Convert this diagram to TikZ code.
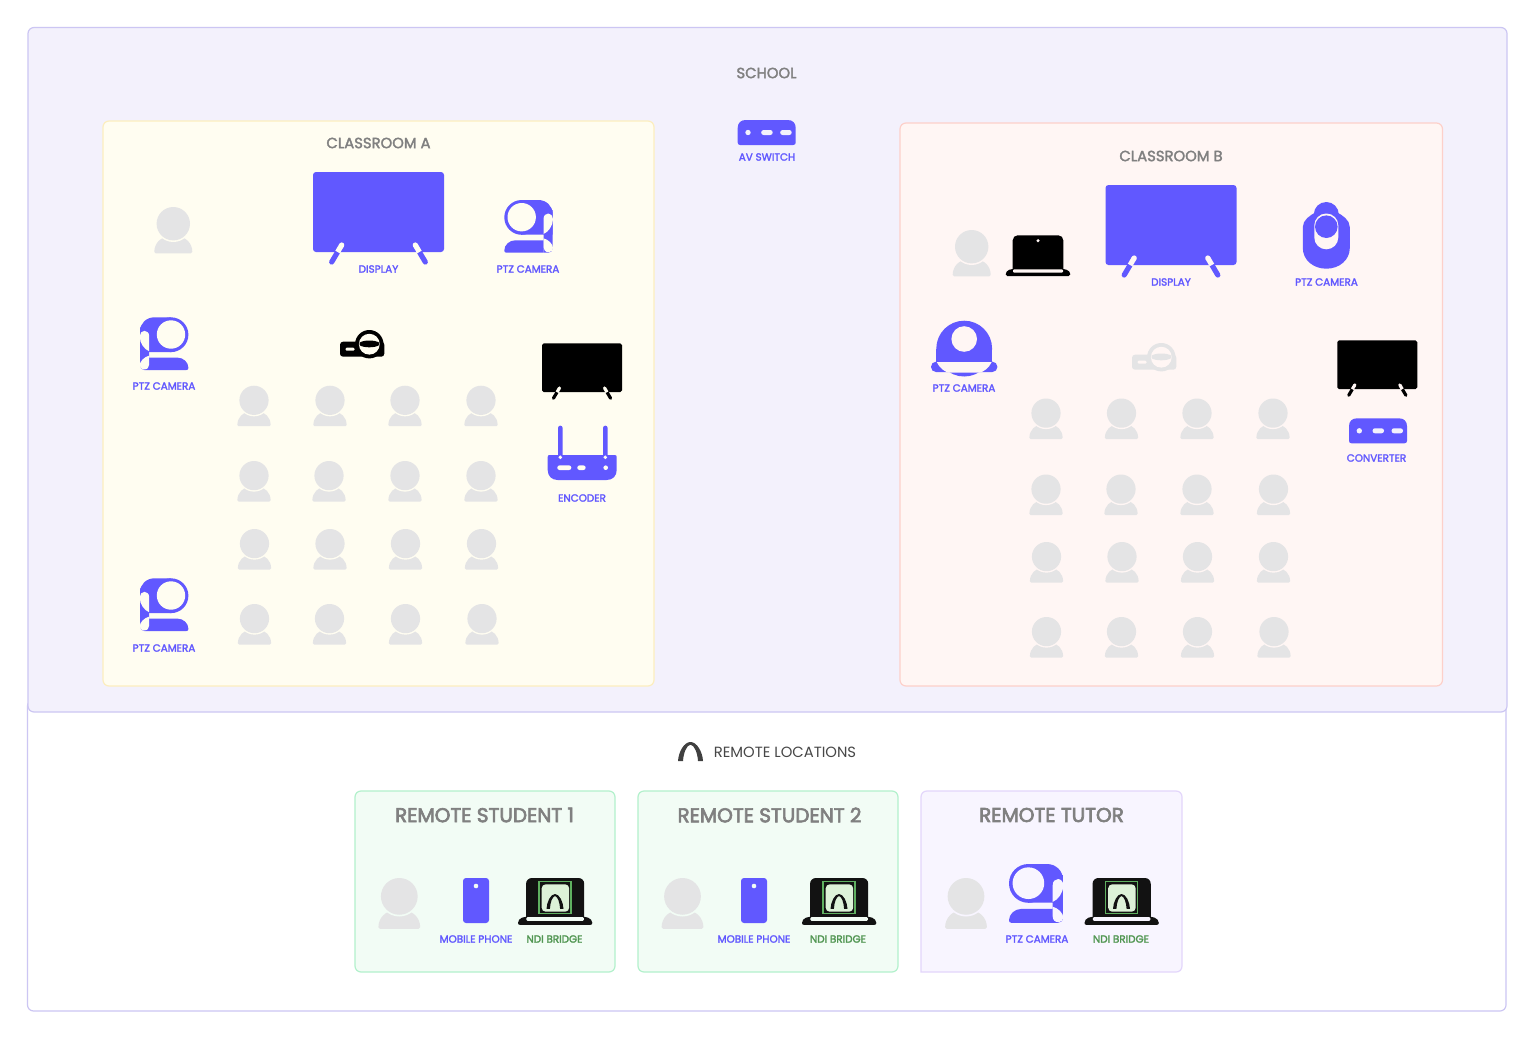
\documentclass[tikz,border=0pt]{standalone}
\usepackage{fontspec}
\setmainfont{Poppins}
\newfontfamily\medfont[FakeBold=2.2]{Poppins}
\newfontfamily\semifont[FakeBold=3.2]{Poppins}
\definecolor{purp}{HTML}{6158FF}
\definecolor{grayp}{HTML}{E4E4E5}
\definecolor{schoolfill}{HTML}{F3F1FC}
\definecolor{schoolline}{HTML}{CCC6F3}
\definecolor{afill}{HTML}{FFFDF1}
\definecolor{aline}{HTML}{FCEEBF}
\definecolor{bfill}{HTML}{FFF6F4}
\definecolor{bline}{HTML}{FDD0CA}
\definecolor{gfill}{HTML}{F2FCF5}
\definecolor{gline}{HTML}{B3F1CC}
\definecolor{tfill}{HTML}{F8F5FF}
\definecolor{tline}{HTML}{E3D6FB}
\definecolor{ndigreen}{HTML}{5FB060}
\definecolor{ndifill}{HTML}{DDF2D8}
\definecolor{titlegray}{HTML}{808080}
\tikzset{
  panel/.style={line width=1.2pt,rounded corners=6pt},
  lbl/.style={font=\medfont\fontsize{10.4}{11}\selectfont,text=purp,inner sep=0pt},
  greenlbl/.style={font=\medfont\fontsize{10.4}{11}\selectfont,text=ndigreen!85!black,inner sep=0pt},
  roomtitle/.style={font=\medfont\fontsize{14.8}{16}\selectfont,text=titlegray,inner sep=0pt},
  remotetitle/.style={font=\semifont\fontsize{20}{22}\selectfont,text=titlegray,inner sep=0pt}
}
% #1 centre x, #2 top y, #3 scale, #4 background
\newcommand{\person}[4]{\begin{scope}[shift={(#1,#2)},scale=#3]
  \fill[grayp] (-17.5,46.3) -- (17.5,46.3) .. controls (18.5,46.3) and (19,45.8) .. (19,44.8) .. controls (19,36) and (12,30) .. (6,30) -- (-6,30) .. controls (-12,30) and (-19,36) .. (-19,44.8) .. controls (-19,45.8) and (-18.5,46.3) .. (-17.5,46.3) -- cycle;
  \fill[#4] (0,16.7) circle[radius=18.3pt];
  \fill[grayp] (0,16.7) circle[radius=16.7pt];
\end{scope}}
% #1 left, #2 top, #3 scale, #4 colour, #5 background
\newcommand{\tv}[5]{\begin{scope}[shift={(#1,#2)},scale=#3]
  \fill[#4,rounded corners={3pt*#3}] (0,0) rectangle (131,80);
  \draw[#4,line width={5.2pt*#3},line cap=round] (24.6,80) -- (18.7,90);
  \draw[#4,line width={5.2pt*#3},line cap=round] (106.4,80) -- (112.3,90);
  \draw[#5,line width={5.2pt*#3}] (28.7,73) -- (24.6,80);
  \draw[#5,line width={5.2pt*#3}] (102.3,73) -- (106.4,80);
  \fill[#5] (28.7,73) circle[radius={2.6pt}];
  \fill[#5] (102.3,73) circle[radius={2.6pt}];
\end{scope}}
% #1 anchor x, #2 top, #3 x scale, #4 y scale, #5 background
\newcommand{\camhead}[5]{\begin{scope}[shift={(#1,#2)},xscale=#3,yscale=#4]
  \fill[purp] (17.4,17.4) circle[radius=17.4pt];
  \fill[purp] (17.4,0) -- (34,0) .. controls (42,0) and (48.4,6) .. (48.4,14) -- (48.4,34.7) -- (17.4,34.7) -- cycle;
  \fill[purp] (39.2,10) -- (48.4,10) -- (48.4,48) .. controls (48.4,51) and (46.5,52.7) .. (44,52.7) -- (39.2,52.7) -- cycle;
  \fill[purp] (39.3,40.3) -- (11,40.3) .. controls (5,40.3) and (0,45) .. (0,50.5) .. controls (0,52) and (0.8,52.7) .. (2,52.7) -- (39.3,52.7) -- cycle;
  \fill[#5] (17.4,17.2) circle[radius=14.2pt];
  \fill[#5] (39.2,34) -- (39.2,19) .. controls (39.2,15.5) and (41.5,13.5) .. (44,13.5) .. controls (46.5,13.5) and (48.7,16) .. (48.7,19) .. controls (48.7,26) and (44,32) .. (39.2,34) -- cycle;
  \fill[#5] (39.2,38.3) .. controls (44,39.5) and (48.7,44) .. (48.7,48) .. controls (48.7,50.5) and (47,52.2) .. (44.5,52.2) .. controls (41,52.2) and (39.2,50) .. (39.2,47) -- cycle;
\end{scope}}
% dome camera: #1 centre x, #2 top, #3 background
\newcommand{\camdome}[3]{\begin{scope}[shift={(#1,#2)}]
  \fill[purp,rounded corners=5pt] (-33.2,41) rectangle (33.2,51.3);
  \fill[purp] (0,27.9) circle[radius=27.9pt];
  \fill[purp] (-27.9,27.9) rectangle (27.9,41);
  \fill[#3] (-27.5,41.3) -- (27.5,41.3) .. controls (25,47) and (19,51.8) .. (15,51.8) -- (-15,51.8) .. controls (-19,51.8) and (-25,47) .. (-27.5,41.3) -- cycle;
  \fill[#3] (0,18.3) circle[radius=12.8pt];
\end{scope}}
% tall camera: #1 centre x, #2 top, #3 background
\newcommand{\camtall}[3]{\begin{scope}[shift={(#1,#2)}]
  \fill[purp] (-23.5,25) .. controls (-23.5,18) and (-16,13) .. (-10,10) -- (10,10) .. controls (16,13) and (23.5,18) .. (23.5,25) -- (23.5,46) .. controls (23.5,58) and (13,66.7) .. (0,66.7) .. controls (-13,66.7) and (-23.5,58) .. (-23.5,46) -- cycle;
  \fill[purp] (0,12.5) circle[radius=12.5pt];
  \fill[#3,rounded corners=11.9pt] (-12,11.5) rectangle (12,47.3);
  \fill[purp] (0,24.7) circle[radius=11.3pt];
\end{scope}}
% #1 left, #2 top, #3 colour, #4 background
\newcommand{\projector}[4]{\begin{scope}[shift={(#1,#2)}]
  \fill[#3,rounded corners=3pt] (0,11.7) rectangle (44.3,26.7);
  \fill[#3] (29.3,14.2) circle[radius=14.2pt];
  \fill[#4] (29.3,14.2) circle[radius=10.4pt];
  \fill[#3] (19.5,12.6) .. controls (24,9.8) and (34.6,9.8) .. (39.1,12.6) -- (39.1,15.2) .. controls (34.6,18) and (24,18) .. (19.5,15.2) -- cycle;
  \fill[#4,rounded corners=1.2pt] (5.5,17.7) rectangle (14.5,20.7);
\end{scope}}
% #1 left, #2 top, #3 scale, #4 background, #5 colour of lid
\newcommand{\laptop}[5]{\begin{scope}[shift={(#1,#2)},scale=#3]
  \fill[#5,rounded corners={5pt*#3}] (7,0) rectangle (57.6,39);
  \fill[#5] (7,33.7) -- (3.5,34.5) .. controls (1.5,35.2) and (0,37) .. (0,39) .. controls (0,40.2) and (0.5,40.7) .. (1.5,40.7) -- (63,40.7) .. controls (64,40.7) and (64.6,40.2) .. (64.6,39) .. controls (64.6,37) and (63,35.2) .. (61,34.5) -- (57.6,33.7) -- cycle;
  \fill[#4,rounded corners={1pt*#3}] (7.3,34) rectangle (57.3,37.3);
\end{scope}}
% #1 left, #2 top, #3 x size, #4 y size, #5 colour
\newcommand{\archicon}[5]{\begin{scope}[shift={(#1,#2)},xscale=#3,yscale=#4]
  \fill[#5] (0,19) .. controls (0.5,10) and (6,0) .. (12.5,0) .. controls (19,0) and (24.5,10) .. (25,19) -- (20,19) .. controls (19.5,11) and (16.5,3.2) .. (12.5,2.6) .. controls (8.5,3.2) and (5.5,11) .. (5,19) -- cycle;
\end{scope}}
% #1 left, #2 top, #3 background
\newcommand{\ndilaptop}[3]{\laptop{#1}{#2}{1.15}{#3}{black!93}
\begin{scope}[shift={(#1,#2)},scale=1.15]
  \draw[ndigreen,line width=1.2pt] (18.3,3.2) rectangle (46,30.7);
  \fill[ndifill,rounded corners=4pt] (20.6,5.5) -- (44.5,5.5) -- (44.5,29.3) -- (20.6,29.3) -- cycle;
\end{scope}
\archicon{#1+28.5}{#2+16}{0.68}{0.78}{black!93}}
% #1 left, #2 top
\newcommand{\switchbox}[2]{\begin{scope}[shift={(#1,#2)}]
  \fill[purp] (0,8) .. controls (0,3) and (3,0) .. (8,0) -- (50,0) .. controls (55,0) and (58,3) .. (58,8) -- (58,22.5) .. controls (58,24.2) and (57,25) .. (55.5,25) -- (2.5,25) .. controls (1,25) and (0,24.2) .. (0,22.5) -- cycle;
  \fill[schoolfill] (10.3,12.5) circle[radius=2.7pt];
  \fill[schoolfill,rounded corners=2.4pt] (23.5,10) rectangle (35,15);
  \fill[schoolfill,rounded corners=2.4pt] (42.5,10) rectangle (54,15);
\end{scope}}
% #1 left, #2 top, #3 dot colour
\newcommand{\phoneicon}[3]{\begin{scope}[shift={(#1,#2)}]
  \fill[purp,rounded corners=3pt] (0,0) rectangle (26,45);
  \fill[#3] (13,8) circle[radius=2.3pt];
\end{scope}}
\begin{document}
\begin{tikzpicture}[x=1pt,y=-1pt]
\useasboundingbox (0,0) rectangle (1535,1039);
\fill[white] (0,0) rectangle (1535,1039);
% panels
\draw[panel,draw=schoolline,fill=white] (27.5,700) rectangle (1506,1011);
\draw[panel,draw=schoolline,fill=schoolfill] (28,27.5) rectangle (1507,712);
\draw[panel,draw=aline,fill=afill] (103,121) rectangle (654,686);
\draw[panel,draw=bline,fill=bfill] (900,123) rectangle (1442.5,686);
\draw[panel,draw=gline,fill=gfill] (355,791) rectangle (615,972);
\draw[panel,draw=gline,fill=gfill] (638,791) rectangle (898,972);
\draw[line width=1.2pt,draw=tline,fill=tfill] (921,972) -- (921,797) .. controls (921,793.5) and (923.5,791) .. (927,791) -- (1176,791) .. controls (1179.5,791) and (1182,793.5) .. (1182,797) -- (1182,966) .. controls (1182,969.5) and (1179.5,972) .. (1176,972) -- cycle;
% titles
\node[roomtitle] (tschool) at (766.5,73) {SCHOOL};
\node[roomtitle] (tclassa) at (378.5,143) {CLASSROOM A};
\node[roomtitle] (tclassb) at (1171,156) {CLASSROOM B};
\node[font=\fontsize{14.8}{16}\selectfont,text=black!72,inner sep=0pt] (tremote) at (785,752) {REMOTE LOCATIONS};
\archicon{678}{742}{1}{1}{black!75}
\node[remotetitle] (tstudenta) at (484.5,815) {REMOTE STUDENT 1};
\node[remotetitle] (tstudentb) at (769.5,815) {REMOTE STUDENT 2};
\node[remotetitle] (ttutor) at (1051.5,815) {REMOTE TUTOR};
% av switch
\switchbox{737.7}{120}
\node[lbl] (lswitch) at (767,157) {AV SWITCH};
% classroom A
\person{173.3}{207}{1}{afill}
\tv{313}{172}{1}{purp}{afill}
\node[lbl] (ldispa) at (378.5,269) {DISPLAY};
\camhead{504.3}{200}{1}{1}{afill}
\node[lbl] (lcama) at (528,269) {PTZ CAMERA};
\camhead{188.4}{317.3}{-1}{1}{afill}
\node[lbl] (lcamb) at (164,386) {PTZ CAMERA};
\camhead{188.4}{578.3}{-1}{1}{afill}
\node[lbl] (lcamc) at (164,648) {PTZ CAMERA};
\projector{340}{330}{black}{afill}
\tv{542}{343.3}{0.611}{black}{afill}
\foreach \ax in {560.3,605.3} {\fill[purp,rounded corners=2pt] (\ax-2.2,425.7) rectangle (\ax+2.2,462);}
\fill[purp] (547.7,457) .. controls (547.7,455.6) and (548.4,455) .. (549.7,455) -- (614.7,455) .. controls (616,455) and (616.7,455.6) .. (616.7,457) -- (616.7,470) .. controls (616.7,476) and (612.7,480) .. (606.7,480) -- (557.7,480) .. controls (551.7,480) and (547.7,476) .. (547.7,470) -- cycle;
\foreach \ax in {560.3,605.3} {\fill[afill] (\ax,457.3) circle[radius=1.9pt];}
\fill[afill,rounded corners=2.2pt] (557.3,465.4) rectangle (571.3,470);
\fill[afill,rounded corners=2.2pt] (577.3,465.4) rectangle (585.6,470);
\fill[afill] (605.7,467.7) circle[radius=2.3pt];
\node[lbl] (lenc) at (582,498) {ENCODER};
\foreach \sx/\sy in {254/385.7,330/385.7,405/385.7,481/385.7,254/461,329/461,405/461,481/461,254.5/529,330/529,405.5/529,481.5/529,254.5/604,329.5/604,405.5/604,482/604} {\person{\sx}{\sy}{0.875}{afill}}
% classroom B
\person{971.7}{230}{1}{bfill}
\laptop{1005.7}{235.3}{1}{bfill}{black}
\fill[bfill] (1038,240.7) circle[radius=1.7pt];
\tv{1105.5}{185}{1}{purp}{bfill}
\node[lbl] (ldispb) at (1171,282) {DISPLAY};
\camtall{1326.3}{202}{bfill}
\node[lbl] (lcamd) at (1326.5,282) {PTZ CAMERA};
\camdome{964.2}{320.7}{bfill}
\node[lbl] (lcame) at (964,388) {PTZ CAMERA};
\projector{1132}{343}{grayp}{bfill}
\tv{1337.3}{340.3}{0.611}{black}{bfill}
\switchbox{1349}{418.3}
\node[lbl] (lconv) at (1376.5,458) {CONVERTER};
\foreach \sx/\sy in {1046/398.5,1121.5/398.5,1197/398.5,1273/398.5,1046/474.5,1121/474.5,1197/474.5,1273.5/474.5,1046.5/542,1122/542,1197.5/542,1273.5/542,1046.5/617,1121.5/617,1197.5/617,1274/617} {\person{\sx}{\sy}{0.875}{bfill}}
% remote student 1
\person{399.3}{878}{1.1}{gfill}
\phoneicon{463}{878}{gfill}
\node[lbl] (lphonea) at (476,939) {MOBILE PHONE};
\ndilaptop{518}{878}{gfill}
\node[greenlbl] (lndia) at (554.5,939) {NDI BRIDGE};
% remote student 2
\person{682.5}{878}{1.1}{gfill}
\phoneicon{741}{878}{gfill}
\node[lbl] (lphoneb) at (754,939) {MOBILE PHONE};
\ndilaptop{802}{878}{gfill}
\node[greenlbl] (lndib) at (838,939) {NDI BRIDGE};
% remote tutor
\person{966}{878}{1.1}{tfill}
\camhead{1009}{864}{1.115}{1.115}{tfill}
\node[lbl] (lcamf) at (1037,939) {PTZ CAMERA};
\ndilaptop{1084.5}{878}{tfill}
\node[greenlbl] (lndic) at (1121,939) {NDI BRIDGE};
\end{tikzpicture}
\end{document}
